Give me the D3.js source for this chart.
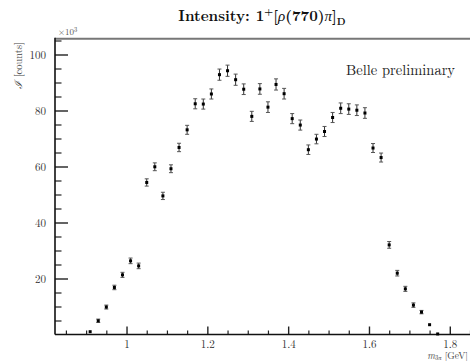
<!DOCTYPE html>
<html><head><meta charset="utf-8">
<script src="https://cdn.jsdelivr.net/npm/d3@7"></script>
<style>
body{margin:0;background:#fff;}
svg{display:block;}
</style></head>
<body>
<svg id="c" width="470" height="361"></svg>
<script>
const massBins = [0.91,0.93,0.95,0.97,0.99,1.01,1.03,1.05,1.07,1.09,1.11,1.13,1.15,1.17,1.19,1.21,1.23,1.25,1.27,1.29,1.31,1.33,1.35,1.37,1.39,1.41,1.43,1.45,1.47,1.49,1.51,1.53,1.55,1.57,1.59,1.61,1.63,1.65,1.67,1.69,1.71,1.73,1.75,1.77];
const intensity = [1.0,4.9,9.8,16.8,21.3,26.3,24.5,54.3,59.9,49.5,59.2,66.8,73.1,82.4,82.3,85.9,92.8,94.2,91.0,87.6,77.9,87.7,81.2,89.3,86.0,77.1,74.8,66.0,69.8,72.5,77.5,80.8,80.5,80.1,79.1,66.6,63.2,32.0,21.9,16.3,10.5,8.0,3.5,0.2];
const errors = [0.4,0.6,0.7,0.8,0.9,1.0,1.0,1.3,1.4,1.3,1.4,1.5,1.6,1.8,1.8,1.8,2.0,2.0,2.0,1.9,1.8,1.9,1.9,2.0,1.9,1.8,1.8,1.7,1.7,1.8,1.8,1.9,1.9,1.9,1.9,1.6,1.6,1.2,1.0,0.9,0.8,0.6,0.4,0.2];
const yMajorTicks = [20,40,60,80,100];
const xMajorTicks = [1.0,1.2,1.4,1.6,1.8];

const FONT = '"Latin Modern Roman", "CMU Serif", "Liberation Serif", serif';
const svg = d3.select("#c");
const L = 55, R = 470, T = 37.7, B = 334.5;
const x = d3.scaleLinear([0.823, 1.85], [L, R]);
const y = d3.scaleLinear([0, 106], [B, T]);

// top frame line
svg.append("line").attr("x1", L).attr("x2", R).attr("y1", T + 1).attr("y2", T + 1)
  .attr("stroke", "#777").attr("stroke-width", 2);

// x minor ticks
const xMinor = d3.range(0.85, 1.851, 0.05).filter(v => !xMajorTicks.some(t => Math.abs(t - v) < 1e-6));
svg.append("g").attr("transform", `translate(0,${B})`)
  .call(d3.axisBottom(x).tickValues(xMinor).tickSize(-4).tickFormat(""))
  .call(g => g.select(".domain").remove())
  .call(g => g.selectAll("line").attr("stroke", "#222").attr("stroke-width", 1.2));
// x major
const xg = svg.append("g").attr("transform", `translate(0,${B})`)
  .call(d3.axisBottom(x).tickValues(xMajorTicks).tickSize(-8).tickPadding(6)
    .tickFormat(d => d === 1 ? "1" : d3.format(".1f")(d)))
  .call(g => g.select(".domain").remove());
xg.selectAll("line").attr("stroke", "#222").attr("stroke-width", 1.4);
xg.selectAll("text").style("font-family", FONT).style("font-size", "11px").attr("fill", "#333");

// y minor
const yMinor = d3.range(5, 106, 5).filter(v => v % 20 !== 0);
svg.append("g").attr("transform", `translate(${L},0)`)
  .call(d3.axisLeft(y).tickValues(yMinor).tickSize(-6.5).tickFormat(""))
  .call(g => g.select(".domain").remove())
  .call(g => g.selectAll("line").attr("stroke", "#222").attr("stroke-width", 1.2));
const yg = svg.append("g").attr("transform", `translate(${L},0)`)
  .call(d3.axisLeft(y).tickValues(yMajorTicks).tickSize(-13).tickPadding(9))
  .call(g => g.select(".domain").remove());
yg.selectAll("line").attr("stroke", "#222").attr("stroke-width", 1.4);
yg.selectAll("text").style("font-family", FONT).style("font-size", "11px").attr("fill", "#333");

// axis lines
svg.append("line").attr("x1", L).attr("x2", L).attr("y1", T).attr("y2", B).attr("stroke", "#111").attr("stroke-width", 1.6);
svg.append("line").attr("x1", L).attr("x2", R).attr("y1", B).attr("y2", B).attr("stroke", "#111").attr("stroke-width", 1.6);

// data
const pts = massBins.map((m, i) => ({m, v: intensity[i], e: errors[i]}));
const g = svg.append("g");
pts.forEach(p => {
  const cx = x(p.m), y1 = y(p.v + p.e), y2 = y(p.v - p.e);
  if (y2 - y1 > 2.5) {
    g.append("line").attr("x1", cx).attr("x2", cx).attr("y1", y1).attr("y2", y2).attr("stroke", "#333").attr("stroke-width", 1);
    [y1, y2].forEach(yy => g.append("line").attr("x1", cx - 2).attr("x2", cx + 2).attr("y1", yy).attr("y2", yy).attr("stroke", "#555").attr("stroke-width", 1));
  }
  g.append("rect").attr("x", cx - 1.5).attr("y", y(p.v) - 1.5).attr("width", 3).attr("height", 3).attr("fill", "#000");
});

// multiplier
svg.append("text").attr("x", 58).attr("y", 35).style("font-family", FONT).style("font-size", "9px").attr("fill", "#555")
  .html('×10<tspan dy="-3" style="font-size:6.5px">3</tspan>');

// title
const title = svg.append("text").attr("x", 262).attr("y", 21).attr("text-anchor", "middle")
  .style("font-family", FONT).style("font-size", "15px").style("font-weight", "bold").attr("fill", "#111");
title.append("tspan").text("Intensity: 1");
title.append("tspan").attr("dy", -6).style("font-size", "10px").text("+");
title.append("tspan").attr("dy", 6).text("[");
title.append("tspan").style("font-style", "italic").style("font-weight", "normal").text("ρ");
title.append("tspan").text("(770)");
title.append("tspan").style("font-style", "italic").style("font-weight", "normal").text("π");
title.append("tspan").text("]");
title.append("tspan").attr("dy", 4).style("font-size", "10px").text("D");

// Belle preliminary
svg.append("text").attr("x", 455).attr("y", 75).attr("text-anchor", "end").style("font-family", FONT).style("font-size", "14.5px").attr("fill", "#222").text("Belle preliminary");

// y label
svg.append("text").attr("transform", "translate(22,42) rotate(-90)").attr("text-anchor", "end")
  .style("font-family", FONT).style("font-size", "10.5px").attr("fill", "#444")
  .html('<tspan style="font-style:italic">ℐ</tspan> [counts]');

// x label
const xl = svg.append("text").attr("x", 468).attr("y", 358.5).attr("text-anchor", "end").style("font-family", FONT).style("font-size", "9.5px").attr("fill", "#444");
xl.append("tspan").style("font-style", "italic").text("m");
xl.append("tspan").attr("dy", 1.5).style("font-size", "6.5px").text("3");
xl.append("tspan").style("font-size", "6.5px").style("font-style", "italic").text("π");
xl.append("tspan").attr("dy", -1.5).text(" [GeV]");
</script>
</body></html>
